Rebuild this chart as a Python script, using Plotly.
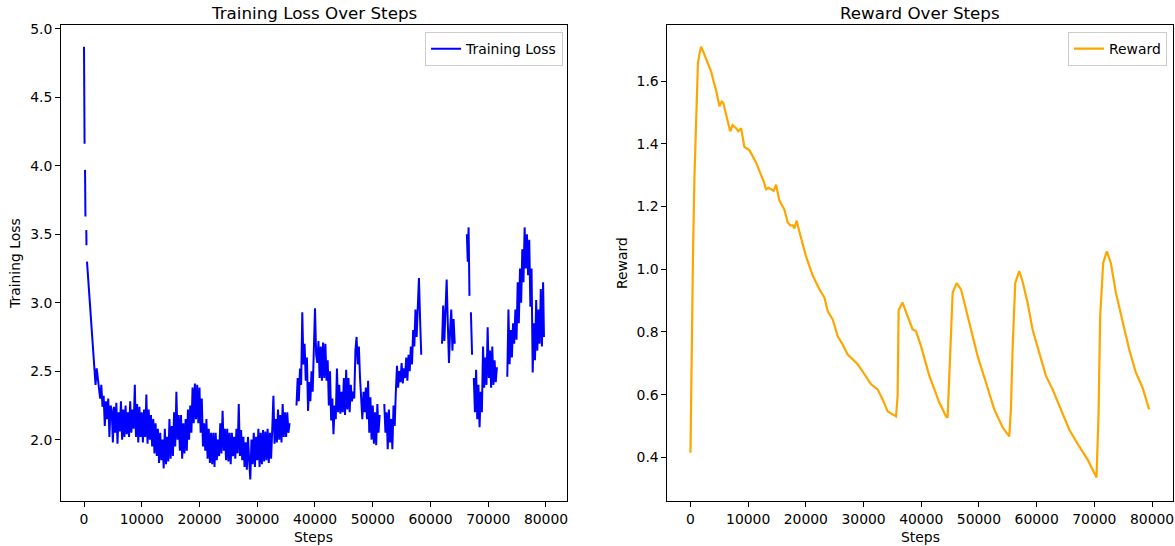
import plotly.graph_objects as go
from plotly.subplots import make_subplots

# ---------------- data ----------------
loss_head_steps = [0, 50, 100, 150, 180, 250, 300, 400, 430, 470, 520]
loss_head_values = [4.87, 4.55, 4.16, None, 3.97, 3.63, None, 3.53, 3.42, None, 3.30]

loss_mid_steps = list(range(800, 65800, 200))
loss_mid_values = [
    3.12, 3.00, 2.88, 2.76, 2.66, 2.56, 2.40, 2.52, 2.44, 2.33,
    2.30, 2.40, 2.24, 2.32, 2.10, 2.28, 2.15, 2.30, 2.02, 2.25,
    2.22, 1.98, 2.24, 2.05, 2.27, 1.97, 2.20, 2.06, 2.28, 2.00,
    2.22, 2.02, 2.25, 2.04, 2.20, 2.02, 2.28, 2.05, 2.22, 2.08,
    2.40, 2.02, 2.26, 1.98, 2.24, 2.02, 2.20, 1.98, 2.22, 2.02,
    2.33, 1.97, 2.22, 2.00, 2.18, 1.95, 2.15, 1.90, 2.12, 1.88,
    2.08, 1.83, 2.05, 1.85, 2.00, 1.79, 2.08, 1.82, 2.02, 1.84,
    2.15, 1.86, 2.10, 1.88, 2.20, 1.95, 2.35, 2.00, 2.18, 1.92,
    2.18, 1.86, 2.12, 1.90, 2.15, 1.92, 2.22, 2.00, 2.25, 2.05,
    2.38, 2.12, 2.41, 2.15, 2.40, 2.12, 2.38, 2.05, 2.30, 1.95,
    2.12, 1.92, 2.15, 1.86, 2.08, 1.83, 2.05, 1.82, 2.05, 1.80,
    2.05, 1.85, 2.00, 1.88, 2.12, 1.90, 2.21, 1.92, 2.08, 1.85,
    2.08, 1.84, 2.05, 1.82, 2.05, 1.88, 2.02, 1.86, 2.08, 1.90,
    2.26, 1.88, 2.07, 1.85, 2.02, 1.80, 1.98, 1.78, 2.02, 1.85,
    1.71, 2.00, 1.82, 2.05, 1.80, 2.02, 1.85, 2.08, 1.80, 2.05,
    1.82, 2.07, 1.84, 2.06, 1.85, 2.08, 1.83, 2.05, 1.86, 2.08,
    2.32, 1.97, 2.15, 1.98, 2.22, 2.00, 2.18, 1.98, 2.26, 2.02,
    2.20, 2.02, 2.20, 2.05, 2.12, None, None, None, None, None,
    2.25, 2.45, 2.28, 2.52, 2.40, 2.93, 2.55, 2.70, 2.43, 2.60,
    2.21, 2.42, 2.28, 2.50, 2.35, 2.60, 2.96, 2.62, 2.56, 2.72,
    2.45, 2.68, 2.43, 2.71, 2.45, 2.70, 2.43, 2.58, 2.25, 2.50,
    2.14, 2.30, 2.04, 2.25, 2.15, 2.52, 2.20, 2.40, 2.19, 2.35,
    2.20, 2.45, 2.18, 2.51, 2.22, 2.45, 2.20, 2.40, 2.28, 2.35,
    2.30, 2.65, 2.75, 2.55, 2.68, 2.45, 2.30, 2.15, 2.35, 2.20,
    2.38, 2.15, 2.43, 2.05, 2.31, 2.00, 2.25, 1.97, 2.20, 1.96,
    2.26, 2.05, 2.18, None, None, None, 2.26, 2.05, 2.20, 1.93,
    2.22, 1.98, 2.15, 1.93, 2.25, 2.10, 2.35, 2.54, 2.38, 2.50,
    2.42, 2.56, 2.41, 2.52, 2.45, 2.60, 2.43, 2.62, 2.50, 2.68,
    2.55, 2.80, 2.68, 2.95, 2.75, 3.02, 3.18, 2.88, 2.62, None,
    None, None, None, None, None, None, None, None, None, None,
    None, None, None, None, None, None, 2.70, 2.98, 2.72, 2.95,
    3.17, 2.85, 2.56, 2.80, 2.95, 2.65, 2.88, 2.70, None, None,
    None, None, None, None, None,
]

loss_tail_steps = [
    66300, 66450, 66600, 66750, 66850, 67000, 67200, 67350,
    67500, 67700, 67900, 68100, 68300, 68500, 68700, 68900, 69100, 69300,
    69500, 69700, 69900, 70100, 70300, 70500, 70700, 70900, 71100, 71300,
    71500, 71700,
    73300, 73500, 73700, 73900, 74100, 74300, 74500, 74700, 74900, 75100,
    75300, 75500, 75700, 75900, 76100, 76300, 76500, 76700, 76900, 77100,
    77300, 77500, 77700, 77900, 78100, 78300, 78500, 78700, 78900, 79100,
    79300, 79500, 79650,
]
loss_tail_values = [
    3.50, 3.30, 3.55, 3.05, None, 2.93, 2.62, None,
    2.45, 2.20, 2.51, 2.15, 2.40, 2.09, 2.35, 2.20, 2.68, 2.38,
    2.60, 2.40, 2.82, 2.45, 2.65, 2.38, 2.68, 2.40, 2.58, 2.42,
    2.53, None,
    2.46, 2.95, 2.55, 2.80, 2.60, 2.85, 2.70, 2.95, 2.73, 3.15,
    2.85, 3.25, 3.00, 3.39, 3.15, 3.55, 3.25, 3.50, 3.20, 3.46,
    2.97, 3.25, 2.49, 2.85, 2.58, 3.02, 2.65, 2.95, 2.70, 3.10,
    2.68, 3.15, 2.75,
]

loss_steps = loss_head_steps + loss_mid_steps + loss_tail_steps
loss_values = loss_head_values + loss_mid_values + loss_tail_values

reward_steps = [
    0, 100, 300, 450, 700, 900, 1100, 1300, 1600, 1850,
    2300, 2700, 3200, 3600, 4000, 4450, 5020, 5400, 5700, 6180,
    6500, 6880, 7300, 7910, 8300, 8780, 9350, 10200, 10800, 11380,
    12240, 12700, 13110, 13500, 13980, 14400, 14840, 15400, 16280, 16850,
    17300, 17720, 18000, 18410, 18880, 19750, 20040, 21190, 22340, 23210,
    23790, 24650, 25520, 26380, 27250, 28110, 28980, 29840, 30710, 31300,
    32440, 33310, 34170, 35040, 35630, 35900, 36080, 36770, 37200, 37640,
    38500, 39090, 39960, 41400, 43130, 44280, 44570, 44980, 45440, 46130,
    46890, 48320, 49770, 51210, 52650, 54090, 55250, 55540, 55830, 56290,
    56980, 57560, 58420, 59290, 60450, 61610, 62760, 64210, 65640, 67380,
    68810, 70370, 70720, 71010, 71530, 72170, 72860, 73730, 74880, 76030,
    77190, 78340, 79500,
]
reward_values = [
    0.415, 0.60, 0.90, 1.06, 1.30, 1.45, 1.58, 1.66, 1.69, 1.71,
    1.69, 1.67, 1.65, 1.63, 1.60, 1.57, 1.52, 1.535, 1.53, 1.49,
    1.47, 1.44, 1.46, 1.45, 1.44, 1.45, 1.39, 1.38, 1.36, 1.34,
    1.30, 1.28, 1.255, 1.26, 1.255, 1.25, 1.27, 1.22, 1.19, 1.15,
    1.14, 1.14, 1.13, 1.155, 1.12, 1.063, 1.04, 0.98, 0.936, 0.91,
    0.866, 0.84, 0.786, 0.76, 0.728, 0.713, 0.697, 0.674, 0.649, 0.633,
    0.617, 0.585, 0.547, 0.537, 0.531, 0.595, 0.87, 0.894, 0.87, 0.85,
    0.808, 0.803, 0.755, 0.66, 0.575, 0.531, 0.527, 0.745, 0.925, 0.956,
    0.936, 0.83, 0.723, 0.639, 0.553, 0.496, 0.467, 0.553, 0.745, 0.956,
    0.994, 0.961, 0.894, 0.808, 0.735, 0.66, 0.617, 0.553, 0.489, 0.435,
    0.394, 0.336, 0.531, 0.85, 1.02, 1.057, 1.02, 0.925, 0.83, 0.745,
    0.671, 0.623, 0.553,
]

x_tick_values = [0, 10000, 20000, 30000, 40000, 50000, 60000, 70000, 80000]
loss_tick_values = [2.0, 2.5, 3.0, 3.5, 4.0, 4.5, 5.0]
reward_tick_values = [0.4, 0.6, 0.8, 1.0, 1.2, 1.4, 1.6]

# ---------------- figure ----------------
FONT = "DejaVu Sans"
TICK_SIZE = 13.9
TITLE_SIZE = 16.7

fig = make_subplots(rows=1, cols=2, horizontal_spacing=0.09)

fig.add_trace(go.Scatter(x=loss_steps, y=loss_values, mode="lines",
                         name="Training Loss", line=dict(color="#0000ff", width=2),
                         connectgaps=False, legend="legend"), row=1, col=1)
fig.add_trace(go.Scatter(x=reward_steps, y=reward_values, mode="lines",
                         name="Reward", line=dict(color="#ffa500", width=2.2),
                         legend="legend2"), row=1, col=2)

axis_common = dict(showgrid=False, zeroline=False, showline=True, linecolor="#000000",
                   linewidth=1, mirror=True, ticks="outside", ticklen=5, tickwidth=1,
                   tickcolor="#000000",
                   tickfont=dict(family=FONT, size=TICK_SIZE, color="#000000"))

fig.update_xaxes(axis_common, range=[-3982, 83632], tickvals=x_tick_values,
                 tickformat="d")
fig.update_xaxes(domain=[0, 0.455], row=1, col=1)
fig.update_xaxes(domain=[0.5454, 1.0], row=1, col=2)
fig.update_yaxes(axis_common)
fig.update_yaxes(range=[1.552, 5.028], tickvals=loss_tick_values, tickformat=".1f", row=1, col=1)
fig.update_yaxes(range=[0.261, 1.779], tickvals=reward_tick_values, tickformat=".1f", row=1, col=2)

legend_common = dict(bgcolor="rgba(255,255,255,0.8)", bordercolor="#cccccc", borderwidth=1,
                     font=dict(family=FONT, size=TICK_SIZE, color="#000000"),
                     xanchor="right", yanchor="top", y=0.985, itemwidth=30)
fig.update_layout(
    width=1175, height=546,
    margin=dict(l=61, r=2, t=25, b=45),
    plot_bgcolor="white", paper_bgcolor="white",
    legend=dict(legend_common, x=0.4515),
    legend2=dict(legend_common, x=0.9946),
    showlegend=True,
)

ann_font = dict(family=FONT, size=TICK_SIZE, color="#000000")
title_font = dict(family=FONT, size=TITLE_SIZE, color="#000000")
annotations = [
    dict(text="Training Loss Over Steps", x=0.2275, y=1.025, font=title_font),
    dict(text="Reward Over Steps", x=0.7727, y=1.025, font=title_font),
    dict(text="Steps", x=0.2275, y=-0.0756, font=ann_font),
    dict(text="Steps", x=0.7727, y=-0.0756, font=ann_font),
    dict(text="Training Loss", x=-0.0414, y=0.5, textangle=-90, font=ann_font),
    dict(text="Reward", x=0.5045, y=0.5, textangle=-90, font=ann_font),
]
for a in annotations:
    fig.add_annotation(xref="paper", yref="paper", showarrow=False,
                       xanchor="center", yanchor="middle", **a)

fig.write_html(
    "out.html",
    config={"displayModeBar": False},
    post_script="document.body.style.margin='0';document.body.style.overflow='hidden';",
)
